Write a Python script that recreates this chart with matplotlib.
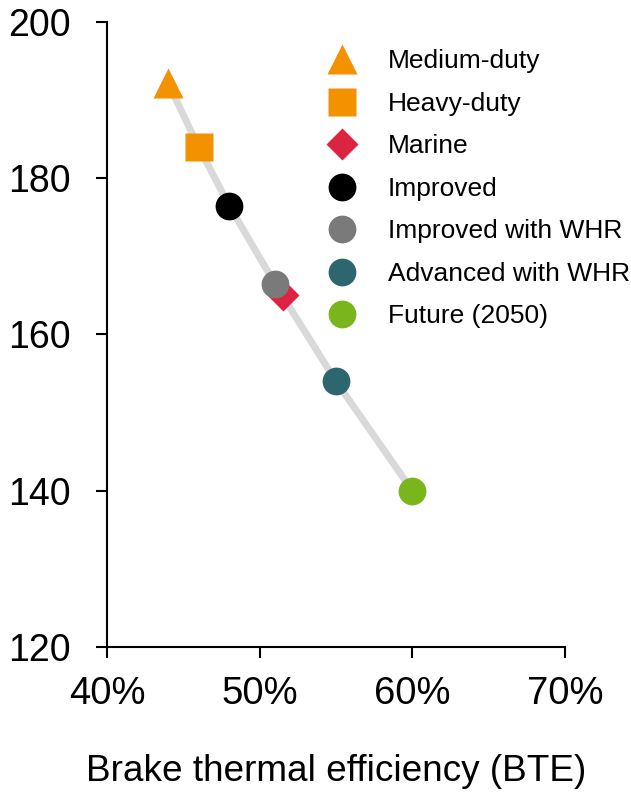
import matplotlib
matplotlib.use("Agg")
from matplotlib import pyplot as plt
from matplotlib.lines import Line2D
from matplotlib.ticker import FuncFormatter

plt.rcParams['font.family'] = ['Liberation Sans', 'DejaVu Sans']

# data
labels = ["Medium-duty", "Heavy-duty", "Marine", "Improved",
          "Improved with WHR", "Advanced with WHR", "Future (2050)"]
bte = [44, 46, 51.5, 48, 51, 55, 60]          # percent
fuel = [192.2, 184, 165, 176.5, 166.5, 154, 140]
markers = ['^', 's', 'D', 'o', 'o', 'o', 'o']
colors = ['#F39200', '#F39200', '#DC2341', '#000000', '#7A7A7A', '#2E6670', '#7AB51D']
sizes = [22, 20, 16, 20, 20, 20, 20]

# trend line through the engine points (not marine)
trend_x = [44, 46, 48, 51, 55, 60]
trend_y = [192.2, 184, 176.5, 166.5, 154, 140]

fig = plt.figure(figsize=(6.31, 7.93), dpi=100)
ax = fig.add_axes([0.1696, 0.1841, 0.7258, 0.7882])

ax.plot(trend_x, trend_y, color='#D9D9D9', lw=5, solid_capstyle='butt', zorder=1)

handles = []
for i in range(len(labels)):
    ax.plot(bte[i], fuel[i], marker=markers[i], ms=sizes[i], color=colors[i],
            mec='none', ls='none', zorder=2 + i)
    handles.append(Line2D([], [], marker=markers[i], ms=sizes[i], color=colors[i],
                          mec='none', ls='none'))

ax.set_xlim(40, 70)
ax.set_ylim(120, 200)
ax.set_xticks([40, 50, 60, 70])
ax.set_yticks([120, 140, 160, 180, 200])
ax.xaxis.set_major_formatter(FuncFormatter(lambda v, p: "%d%%" % v))
ax.spines['top'].set_visible(False)
ax.spines['right'].set_visible(False)
for s in ['left', 'bottom']:
    ax.spines[s].set_linewidth(1.5)
ax.tick_params(axis='both', direction='out', length=8, width=1.5)
ax.tick_params(axis='y', labelsize=27, pad=18)
ax.tick_params(axis='x', labelsize=27.5, pad=13)
ax.set_xlabel("Brake thermal efficiency (BTE)", fontsize=26.6, labelpad=30)

fig.legend(handles, labels, loc='upper left', bbox_to_anchor=(0.500, 0.951),
           frameon=False, fontsize=19, labelspacing=0.7, handletextpad=1.15,
           handlelength=1.2, borderaxespad=0)

fig.savefig("out.png", dpi=100)
